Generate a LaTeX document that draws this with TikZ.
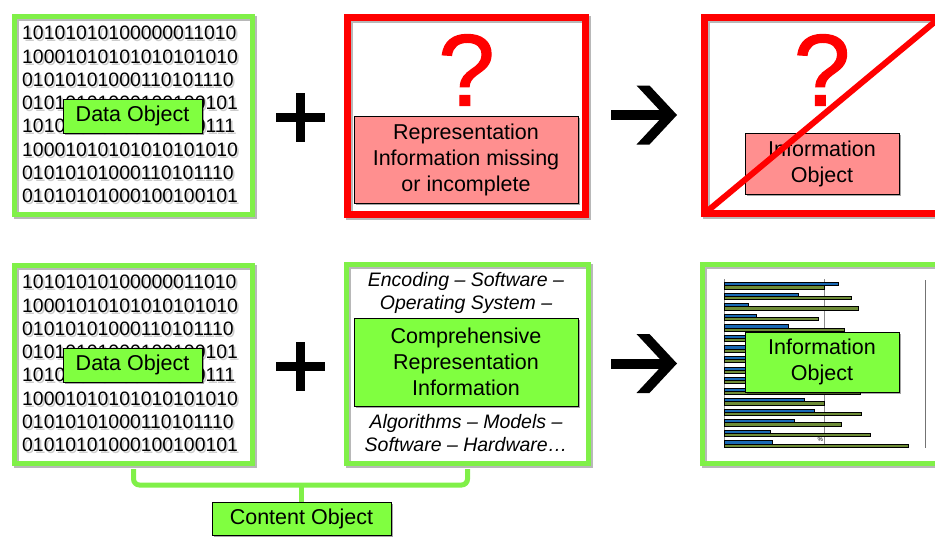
\documentclass[tikz,border=0pt]{standalone}
\usepackage{fontspec}
\setmainfont{Liberation Sans}
\newfontfamily\qfont[FakeBold=1.2]{Liberation Sans}
\usetikzlibrary{shadows}
\definecolor{lgreen}{RGB}{128,255,64}
\definecolor{bgreen}{RGB}{128,240,72}
\definecolor{pinkf}{RGB}{255,143,143}
\definecolor{barblue}{RGB}{25,105,180}
\definecolor{barolive}{RGB}{110,140,55}
\newcommand\bintxt{10101010100000011010\\10001010101010101010\\01010101000110101110\\01010101000100100101\\10101010100100010111\\10001010101010101010\\01010101000110101110\\01010101000100100101}
\newcommand\frameit[3]{%
  \draw[black,opacity=0.28,line width=#3] ([shift={(2pt,-2pt)}]#1.south west) rectangle ([shift={(2pt,-2pt)}]#1.north east);
  \draw[#2,line width=#3] (#1.south west) rectangle (#1.north east);}
\newcommand\bigarrow[1]{%
  \fill (611,#1-5) rectangle (668,#1+5);
  \fill (636.5,#1-29.5) -- (649.5,#1-29.5) -- (677,#1) -- (649.5,#1+29.5) -- (636.5,#1+29.5) -- (664,#1) -- cycle;}
\newcommand\bigplus[1]{%
  \fill (276,#1-4.5) rectangle (325,#1+4.5);
  \fill (296,#1-24.5) rectangle (305,#1+24.5);}
\begin{document}
\begin{tikzpicture}[x=1pt,y=-1pt,
  frame/.style={rectangle, inner sep=0pt, outer sep=0pt, fill=white},
  lbl/.style={rectangle, draw=black, line width=0.6pt, inner sep=0pt, outer sep=0pt, align=center,
    font=\fontsize{21.5}{26}\selectfont,
    drop shadow={shadow xshift=2pt, shadow yshift=-2pt, opacity=0.35, fill=black}},
  glbl/.style={lbl, fill=lgreen},
  plbl/.style={lbl, fill=pinkf},
  bin/.style={anchor=north west, inner sep=0pt, align=left, font=\fontsize{19.4}{23.3}\selectfont},
  binshadow/.style={bin, text=black, opacity=0.2},
  ital/.style={align=center, inner sep=0pt, font=\itshape\fontsize{19.5}{23}\selectfont},
  qmark/.style={text=red, inner sep=0pt, font=\qfont\fontsize{102}{102}\selectfont},
  bar/.style={draw=black, line width=0.4pt},
  grid/.style={draw=black!45, line width=0.8pt},
  bracestyle/.style={draw=bgreen, line width=5pt, rounded corners=6pt}]
\useasboundingbox (0,0) rectangle (935,536);
\clip (0,0) rectangle (935,536);

% ---------- top row ----------
\node[frame, minimum width=238pt, minimum height=198pt] (tl) at (133.5,115.5) {};
\frameit{tl}{bgreen}{5pt}
\node[binshadow] (tlbs) at (23.8,28) {\bintxt};
\node[bin] (tlb) at (22,26) {\bintxt};
\node[glbl, minimum width=139pt, minimum height=34pt] (tldo) at (132.5,116) {Data Object};

\bigplus{117}

\node[frame, minimum width=238pt, minimum height=197pt] (tm) at (466.5,116) {};
\frameit{tm}{red}{7pt}
\node[qmark] (tmq) at (466.5,70) {?};
\node[plbl, minimum width=224pt, minimum height=87pt] (tmri) at (466,159.5) {Representation\\Information missing\\or incomplete};

\bigarrow{115}

\node[frame, minimum width=235.5pt, minimum height=196pt] (tr) at (822.25,115.5) {};
\frameit{tr}{red}{7pt}
\node[qmark] (trq) at (822,70) {?};
\node[plbl, minimum width=154pt, minimum height=61pt] (trio) at (822,163.5) {Information\\Object};
\draw[red, line width=6pt] (tr.south west) -- (tr.north east);

% ---------- bottom row ----------
\node[frame, minimum width=238pt, minimum height=198pt] (bl) at (133.5,364.5) {};
\frameit{bl}{bgreen}{5pt}
\node[binshadow] (blbs) at (23.8,277) {\bintxt};
\node[bin] (blb) at (22,275) {\bintxt};
\node[glbl, minimum width=139pt, minimum height=34pt] (bldo) at (132.5,365) {Data Object};

\bigplus{366}

\node[frame, minimum width=242pt, minimum height=199pt] (bm) at (467.5,364) {};
\frameit{bm}{bgreen}{5pt}
\node[ital] (bmtop) at (466,292.5) {Encoding – Software –\\Operating System –};
\node[glbl, minimum width=224pt, minimum height=88pt] (bmcri) at (466,362) {Comprehensive\\Representation\\Information};
\node[ital] (bmbot) at (466,433.5) {Algorithms – Models –\\Software – Hardware…};

\bigarrow{363.5}

\node[frame, minimum width=239.5pt, minimum height=199pt] (br) at (822.25,364) {};
\frameit{br}{bgreen}{5pt}
\draw[grid] (724,279) -- (724,448);
\draw[grid] (824,279) -- (824,448);
\draw[draw=black!55, line width=1pt] (925,280) -- (925,448);
\foreach \b/\g [count=\i] in {838/824,798/851,748/858,756/818,788/844,800/830,790/845,780/820,810/850,795/835,805/860,804/824,814/861,794/841,770/870,772/908} {
  \pgfmathsetmacro\yy{282.3+10.55*(\i-1)}
  \draw[bar, fill=barblue] (724,\yy) rectangle (\b,\yy+3.2);
  \draw[bar, fill=barolive] (724,\yy+3.2) rectangle (\g,\yy+6.4);
}
\node[fill=white, inner sep=0.5pt, font=\fontsize{6}{6}\selectfont, anchor=north west] (pct) at (817,437) {\%};
\node[glbl, minimum width=154pt, minimum height=60pt] (brio) at (822,362) {Information\\Object};

% ---------- content object ----------
\node[glbl, minimum width=179pt, minimum height=33pt] (co) at (301.5,518.5) {Content Object};
\draw[bracestyle] ([yshift=-5.5pt]bl.south) -- ++(0,16) -| ([yshift=-5.5pt]bm.south);
\draw[draw=bgreen, line width=5pt] (co.north) -- ++(0,-17);
\end{tikzpicture}
\end{document}
